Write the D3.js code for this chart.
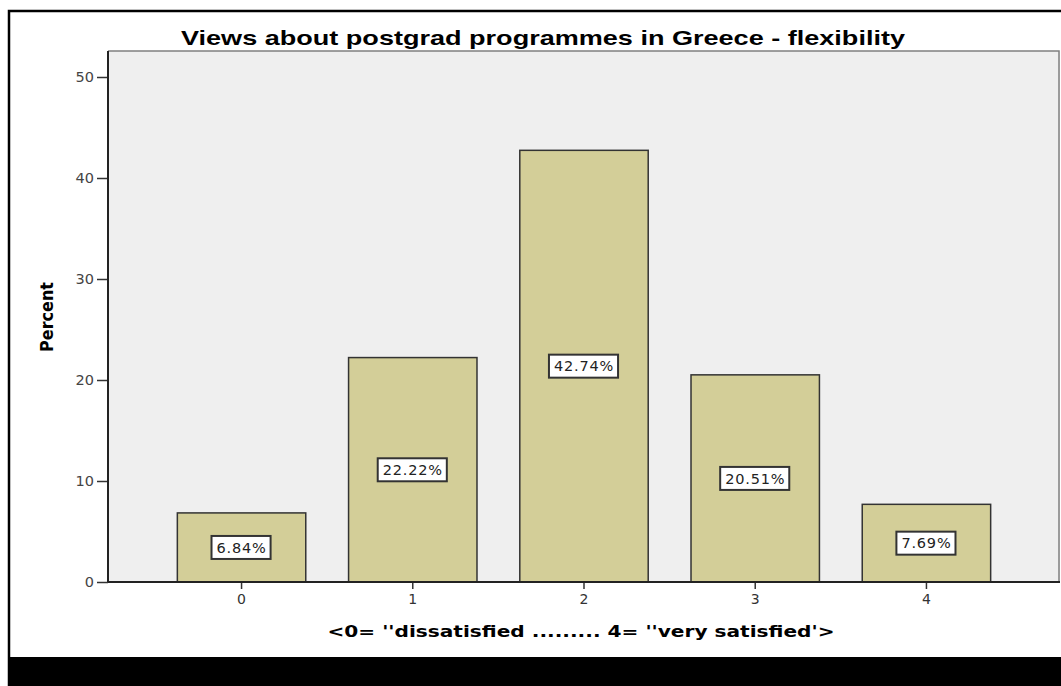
<!DOCTYPE html>
<html>
<head>
<meta charset="utf-8">
<script src="https://cdn.jsdelivr.net/npm/d3@7"></script>
<style>
  html, body { margin: 0; padding: 0; background: #fff; }
  svg { display: block; }
</style>
</head>
<body>
<div id="chart"></div>
<script>
'use strict';

// chart data
const categories = ['0', '1', '2', '3', '4'];
const percents = [6.84, 22.22, 42.74, 20.51, 7.69];
const yTicks = [0, 10, 20, 30, 40, 50];
const titleText = 'Views about postgrad programmes in Greece - flexibility';
const xTitle = "<0= ''dissatisfied ......... 4= ''very satisfied'>";
const yTitle = 'Percent';

const W = 1061, H = 686;
const plot = { left: 108, right: 1060, top: 51, bottom: 582 };

const svg = d3.select('#chart').append('svg')
    .attr('width', W)
    .attr('height', H);

// outer frame and the black strip at the bottom
svg.append('rect')
    .attr('x', 0).attr('y', 0).attr('width', W).attr('height', H)
    .attr('fill', '#fff');
svg.append('path')
    .attr('d', `M 9 ${H} L 9 11 L ${W} 11`)
    .attr('fill', 'none')
    .attr('stroke', '#000')
    .attr('stroke-width', 2.5);
svg.append('rect')
    .attr('x', 8).attr('y', 657).attr('width', W - 8).attr('height', H - 657)
    .attr('fill', '#000');

const x = d3.scaleBand()
    .domain(categories)
    .range([plot.left, plot.right])
    .paddingInner(0.25)
    .paddingOuter(0.405);

const yMax = 50 * (plot.bottom - plot.top) / (plot.bottom - 77);
const y = d3.scaleLinear()
    .domain([0, yMax])
    .range([plot.bottom, plot.top]);

// plot background
svg.append('rect')
    .attr('x', plot.left).attr('y', plot.top)
    .attr('width', plot.right - plot.left)
    .attr('height', plot.bottom - plot.top)
    .attr('fill', '#efefef');
svg.append('path')
    .attr('d', `M ${plot.left} ${plot.top} L ${plot.right - 1} ${plot.top} L ${plot.right - 1} ${plot.bottom}`)
    .attr('fill', 'none')
    .attr('stroke', '#808080')
    .attr('stroke-width', 1.5);

// bars
svg.append('g')
    .selectAll('rect')
    .data(percents)
    .join('rect')
    .attr('x', (d, i) => x(categories[i]))
    .attr('y', (d) => y(d))
    .attr('width', x.bandwidth())
    .attr('height', (d) => y(0) - y(d))
    .attr('fill', '#d3ce98')
    .attr('stroke', '#333')
    .attr('stroke-width', 1.5);

// axes
const yAxis = svg.append('g')
    .attr('transform', `translate(${plot.left},0)`)
    .call(d3.axisLeft(y).tickValues(yTicks).tickSize(11).tickSizeOuter(0).tickPadding(3));
yAxis.select('.domain').remove();
yAxis.selectAll('line').attr('stroke', '#333').attr('stroke-width', 1.5);
yAxis.selectAll('text')
    .attr('font-family', 'DejaVu Sans')
    .attr('font-size', 14.5)
    .attr('fill', '#444');

const xAxis = svg.append('g')
    .attr('transform', `translate(0,${plot.bottom})`)
    .call(d3.axisBottom(x).tickSize(7).tickSizeOuter(0).tickPadding(5));
xAxis.select('.domain').remove();
xAxis.selectAll('line').attr('stroke', '#333').attr('stroke-width', 1.5);
xAxis.selectAll('text')
    .attr('font-family', 'DejaVu Sans')
    .attr('font-size', 14)
    .attr('fill', '#333');

svg.append('line')
    .attr('x1', plot.left).attr('x2', plot.left)
    .attr('y1', plot.top).attr('y2', plot.bottom)
    .attr('stroke', '#222').attr('stroke-width', 2);
svg.append('line')
    .attr('x1', plot.left).attr('x2', plot.right)
    .attr('y1', plot.bottom).attr('y2', plot.bottom)
    .attr('stroke', '#222').attr('stroke-width', 2);

// value labels in white boxes, centred in each bar
const labels = svg.append('g')
    .selectAll('g')
    .data(percents)
    .join('g')
    .attr('transform', (d, i) => `translate(${x(categories[i]) + x.bandwidth() / 2},${(y(d) + y(0)) / 2})`);

labels.append('rect')
    .attr('fill', '#fff')
    .attr('stroke', '#333')
    .attr('stroke-width', 2);

labels.append('text')
    .attr('text-anchor', 'middle')
    .attr('dy', '0.36em')
    .attr('font-family', 'DejaVu Sans')
    .attr('font-size', 14.5)
    .attr('letter-spacing', 0.8)
    .attr('fill', '#222')
    .text((d) => `${d.toFixed(2)}%`);

labels.each(function () {
    const g = d3.select(this);
    const bb = g.select('text').node().getBBox();
    g.select('rect')
        .attr('x', bb.x - 5)
        .attr('y', -11.5)
        .attr('width', bb.width + 9)
        .attr('height', 23);
});

// titles
svg.append('text')
    .attr('x', 543).attr('y', 45)
    .attr('text-anchor', 'middle')
    .attr('font-family', 'Liberation Sans, Arial, sans-serif')
    .attr('font-weight', 'bold')
    .attr('font-size', 21)
    .attr('textLength', 724)
    .attr('lengthAdjust', 'spacingAndGlyphs')
    .text(titleText);

svg.append('text')
    .attr('x', 581).attr('y', 637)
    .attr('text-anchor', 'middle')
    .attr('font-family', 'DejaVu Sans')
    .attr('font-weight', 'bold')
    .attr('font-size', 16)
    .attr('textLength', 507)
    .attr('lengthAdjust', 'spacingAndGlyphs')
    .text(xTitle);

svg.append('text')
    .attr('transform', 'translate(53,317) rotate(-90)')
    .attr('text-anchor', 'middle')
    .attr('font-family', 'DejaVu Sans')
    .attr('font-weight', 'bold')
    .attr('font-size', 17)
    .attr('textLength', 70)
    .attr('lengthAdjust', 'spacingAndGlyphs')
    .text(yTitle);
</script>
</body>
</html>
